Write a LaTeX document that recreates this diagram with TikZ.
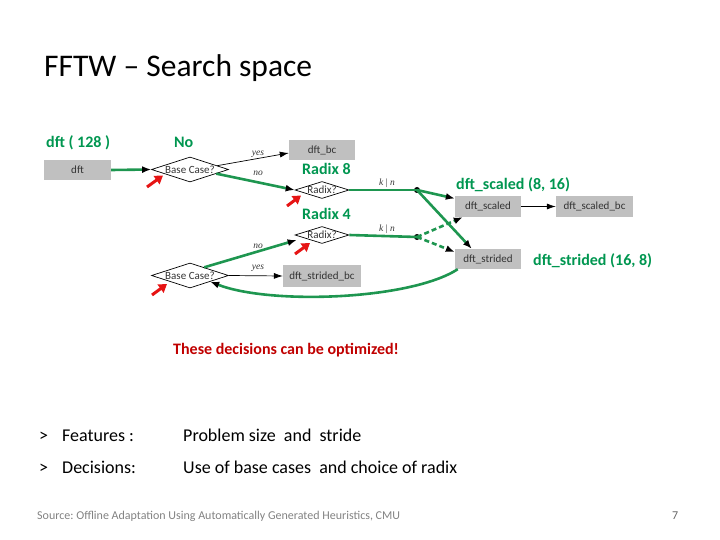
\documentclass[tikz,border=0pt]{standalone}
\usepackage{fontspec}
\setmainfont{Carlito}
\newfontfamily\gvserif{Liberation Serif}
\usetikzlibrary{shapes.geometric,arrows.meta}
\definecolor{gvgreen}{RGB}{30,150,80}
\definecolor{txtgreen}{RGB}{0,150,80}
\definecolor{boxgray}{RGB}{192,192,192}
\definecolor{alertred}{RGB}{192,0,0}
\definecolor{ptrred}{RGB}{230,20,20}
\definecolor{srcgray}{RGB}{130,130,130}
\frenchspacing
\begin{document}
\begin{tikzpicture}[x=1pt,y=-1pt,
  gbox/.style 2 args={fill=boxgray, minimum width=#1, minimum height=#2, inner sep=0pt,
    font=\fontsize{11}{13}\selectfont, text=black!80},
  dia/.style 2 args={diamond, draw=black, line width=0.7pt, minimum width=#1, minimum height=#2,
    inner sep=0pt},
  gedge/.style={draw=gvgreen, line width=2.6pt, -{Latex[length=9pt,width=7pt,color=black]}},
  gline/.style={draw=gvgreen, line width=2.6pt},
  gdash/.style={gedge, dash pattern=on 5pt off 3pt},
  bedge/.style={draw=black, line width=0.7pt, -{Latex[length=9pt,width=6pt]}},
  elabel/.style={font=\gvserif\itshape\fontsize{9.5}{10}\selectfont, inner sep=0pt, text=black!80},
  glab/.style={font=\bfseries\fontsize{16}{18}\selectfont, text=txtgreen, anchor=base west, inner sep=0pt},
  ptr/.style={draw=ptrred, line width=3pt, -{Triangle[length=8pt,width=10pt]}},
  body/.style={font=\fontsize{18}{20}\selectfont, anchor=base west, inner sep=0pt},
  dot/.style={circle, fill=black, inner sep=0pt, minimum size=6pt}
]
\useasboundingbox (0,0) rectangle (720,540);

% title
\node[font=\fontsize{31.5}{34}\selectfont, anchor=base west, inner sep=0pt] (title) at (44,77) {FFTW -- Search space};

% graph nodes
\node[gbox={67pt}{20pt}] (dft) at (77.5,170) {dft};
\node[dia={77pt}{25pt}, label={center:{\fontsize{11}{13}\selectfont\color{black!80}Base Case?}}] (bc1) at (190,169.5) {};
\node[gbox={66pt}{20pt}] (dftbc) at (322,150) {dft\_bc};
\node[dia={54pt}{17pt}, label={center:{\fontsize{11}{13}\selectfont\color{black!80}Radix?}}] (r1) at (322,190) {};
\node[dia={54pt}{17pt}, label={center:{\fontsize{11}{13}\selectfont\color{black!80}Radix?}}] (r2) at (322,235) {};
\node[dot] (dot1) at (417,190) {};
\node[dot] (dot2) at (417,237) {};
\node[gbox={66pt}{21pt}] (dftscaled) at (488,206.5) {dft\_scaled};
\node[gbox={77pt}{21pt}] (dftscaledbc) at (594.5,206.5) {dft\_scaled\_bc};
\node[gbox={66pt}{20pt}] (dftstrided) at (488,259) {dft\_strided};
\node[dia={77pt}{25pt}, label={center:{\fontsize{11}{13}\selectfont\color{black!80}Base Case?}}] (bc2) at (190,275.5) {};
\node[gbox={78pt}{22pt}] (dftstridedbc) at (322,276) {dft\_strided\_bc};

% connectors
\draw[gedge] (dft.east) -- (bc1.west);
\draw[bedge] (bc1.8) -- ([yshift=-3pt]dftbc.west);
\draw[gedge] (bc1.-9) -- (r1.west);
\draw[gline] (r1.east) -- (dot1.center);
\draw[gedge] (dot1.center) -- ([yshift=8pt]dftscaled.west);
\draw[gedge] (dot1.center) -- ([xshift=17pt]dftstrided.north west);
\draw[gline] (r2.east) -- (dot2.center);
\draw[gdash] (dot2.center) -- ([xshift=8pt]dftscaled.south west);
\draw[gdash] (dot2.center) -- ([yshift=7pt]dftstrided.west);
\draw[bedge] (dftscaled.east) -- (dftscaledbc.west);
\draw[gedge] ([xshift=3pt]dftstrided.south west) .. controls (410,300) and (270,305) .. (bc2.-17);
\draw[gedge] (bc2.30) -- ([xshift=2pt,yshift=-5pt]r2.west);
\draw[bedge] (bc2.east) -- (dftstridedbc.west);

% edge labels
\node[elabel] (l1) at (258,154) {yes};
\node[elabel] (l2) at (258,173) {no};
\node[elabel] (l3) at (258,246) {no};
\node[elabel] (l4) at (258,268) {yes};
\node[elabel] (l5) at (387,183) {k {\upshape|} n};
\node[elabel] (l6) at (387,229) {k {\upshape|} n};

% green annotations
\node[glab] (a1) at (46,148) {dft ( 128 )};
\node[glab] (a2) at (174,148) {No};
\node[glab] (a3) at (302,175) {Radix 8};
\node[glab] (a4) at (302,219) {Radix 4};
\node[glab] (a5) at (456,190) {dft\_scaled (8, 16)};
\node[glab] (a6) at (533,265) {dft\_strided (16, 8)};

% red pointers
\coordinate (p1s) at (147,187); \coordinate (p1e) at (163,175.5);
\coordinate (p2s) at (287,206); \coordinate (p2e) at (301,195.5);
\coordinate (p3s) at (295,254); \coordinate (p3e) at (310,243);
\coordinate (p4s) at (152,295); \coordinate (p4e) at (167,284);
\draw[ptr] (p1s) -- (p1e);
\draw[ptr] (p2s) -- (p2e);
\draw[ptr] (p3s) -- (p3e);
\draw[ptr] (p4s) -- (p4e);

% alert
\node[font=\bfseries\fontsize{16}{18}\selectfont, text=alertred, anchor=base west, inner sep=0pt] (alert) at (173,354) {These decisions can be optimized!};

% bullets
\node[body] (b1) at (39,441) {>};
\node[body] (f1) at (62,441) {Features :};
\node[body] (v1) at (183,441) {Problem size\ \ and\ \ stride};
\node[body] (b2) at (39,473) {>};
\node[body] (f2) at (62,473) {Decisions:};
\node[body] (v2) at (183,473) {Use of base cases\ \ and choice of radix};

% footer
\node[font=\fontsize{12}{14}\selectfont, text=srcgray, anchor=base west, inner sep=0pt] (src) at (37,519) {Source: Offline Adaptation Using Automatically Generated Heuristics, CMU};
\node[font=\fontsize{12}{14}\selectfont, text=black!60, anchor=base west, inner sep=0pt] (pg) at (672,519) {7};
\end{tikzpicture}
\end{document}
